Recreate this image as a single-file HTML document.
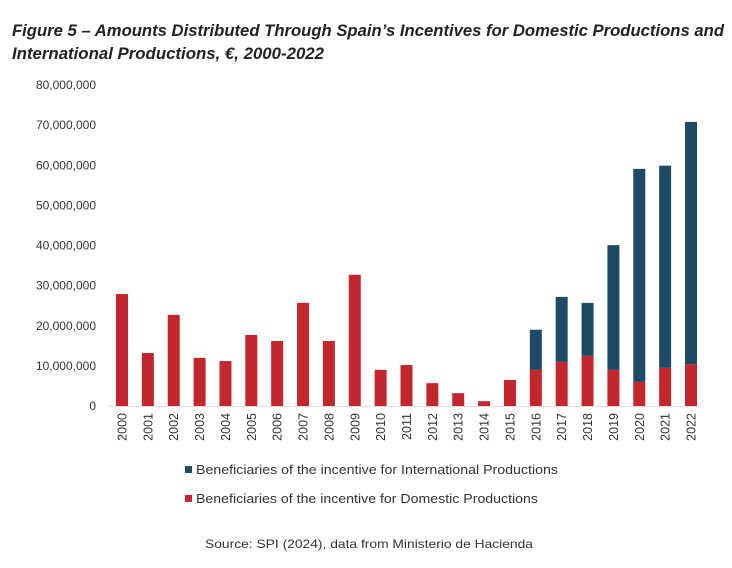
<!DOCTYPE html>
<html><head><meta charset="utf-8"><style>
body{margin:0;width:732px;height:563px;background:#fff;overflow:hidden;font-family:"Liberation Sans",sans-serif;}
</style></head><body>
<svg width="732" height="563">
<text x="12" y="36" font-size="17" font-style="italic" font-weight="bold" fill="#222" textLength="712" lengthAdjust="spacingAndGlyphs">Figure 5 – Amounts Distributed Through Spain’s Incentives for Domestic Productions and</text>
<text x="12" y="59" font-size="17" font-style="italic" font-weight="bold" fill="#222" textLength="312" lengthAdjust="spacingAndGlyphs">International Productions, €, 2000-2022</text>
<g id="yaxis"></g>
<g id="bars"></g>
<g id="xaxis"></g>
<rect x="185" y="466" width="7" height="7" fill="#1f4a66"/>
<text x="196" y="474" font-size="12.5" fill="#333" textLength="362" lengthAdjust="spacingAndGlyphs">Beneficiaries of the incentive for International Productions</text>
<rect x="185" y="495" width="7" height="7" fill="#c1272d"/>
<text x="196" y="503" font-size="12.5" fill="#333" textLength="342" lengthAdjust="spacingAndGlyphs">Beneficiaries of the incentive for Domestic Productions</text>
<text x="369" y="548" font-size="12" fill="#333" text-anchor="middle" textLength="328" lengthAdjust="spacingAndGlyphs">Source: SPI (2024), data from Ministerio de Hacienda</text>
</svg>
<script>
const years=["2000","2001","2002","2003","2004","2005","2006","2007","2008","2009","2010","2011","2012","2013","2014","2015","2016","2017","2018","2019","2020","2021","2022"];
const domestic=[27.9,13.2,22.7,12.0,11.2,17.7,16.2,25.7,16.2,32.7,9.0,10.2,5.7,3.2,1.2,6.5,9.0,11.0,12.5,9.0,6.0,9.5,10.4];
const international=[0,0,0,0,0,0,0,0,0,0,0,0,0,0,0,0,10.0,16.2,13.2,31.1,53.1,50.4,60.4];
const yTicks=[0,10,20,30,40,50,60,70,80];
const yTickLabels=["0","10,000,000","20,000,000","30,000,000","40,000,000","50,000,000","60,000,000","70,000,000","80,000,000"];
const NS="http://www.w3.org/2000/svg";
const y0=406,y1=85,vmax=80;
const yS=v=>y0-(y0-y1)*v/vmax;
const xS=i=>122+i*(691-122)/(years.length-1);
function mk(t,a,p){const e=document.createElementNS(NS,t);for(const k in a)e.setAttribute(k,a[k]);p.appendChild(e);return e;}
const ya=document.getElementById('yaxis'),bg=document.getElementById('bars'),xa=document.getElementById('xaxis');
yTicks.forEach((v,i)=>{const t=mk('text',{x:96,y:yS(v)+4,'font-size':12,'text-anchor':'end',fill:'#333'},ya);t.textContent=yTickLabels[i];

});
mk('line',{x1:108,x2:702,y1:y0+0.5,y2:y0+0.5,stroke:'#ddd'},xa);
years.forEach((yr,i)=>{const x=xS(i),w=12;
const d=mk('rect',{x:x-w/2,y:yS(domestic[i]),width:w,height:y0-yS(domestic[i]),fill:'#c1272d'},bg);


if(international[i]>0){const top=yS(domestic[i]+international[i]);
const r=mk('rect',{x:x-w/2,y:top,width:w,height:yS(domestic[i])-top,fill:'#1f4a66'},bg);

}
const t=mk('text',{x:0,y:0,'font-size':12.5,fill:'#333','text-anchor':'end',transform:`translate(${x+4.5},413) rotate(-90)`},xa);t.textContent=yr;

});
</script>
</body></html>
